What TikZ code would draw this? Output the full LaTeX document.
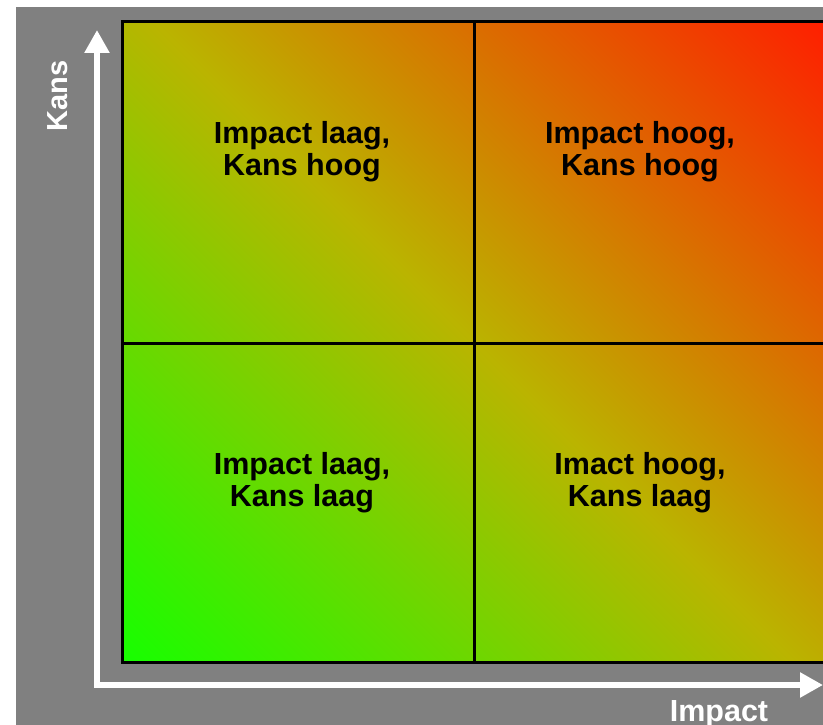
\documentclass[tikz,border=0pt]{standalone}
\usepackage{fontspec}
\setmainfont{Liberation Sans}
\usetikzlibrary{arrows.meta}
\definecolor{bggray}{RGB}{128,128,128}
\definecolor{gA}{RGB}{22,255,0}
\definecolor{gM}{RGB}{186,180,0}
\definecolor{gR}{RGB}{255,30,0}
\tikzset{
  cell/.style={font=\bfseries\fontsize{30.5}{32}\selectfont, align=center, text=black, inner sep=0pt},
  axislabel/.style={font=\bfseries\fontsize{29}{32}\selectfont, text=white, inner sep=0pt},
  gridline/.style={draw=black, line width=3pt},
  axis/.style={draw=white, line width=5.5pt, {Triangle[width=24pt,length=23pt]}-{Triangle[width=24pt,length=23pt]}}
}
\begin{document}
\begin{tikzpicture}[x=1pt,y=-1pt]
\useasboundingbox (0,0) rectangle (823,725);
\clip (0,0) rectangle (823,725);
\fill[white] (0,0) rectangle (823,725);
\fill[bggray] (16,7) rectangle (823,725);
% gradient field
\begin{scope}
  \clip (122,22) rectangle (826,662);
  \begin{scope}[transform canvas={shift={(474,342)},rotate=45}]
    \shade[left color=gA, right color=gR, middle color=gM] (-476,-476) rectangle (476,476);
  \end{scope}
\end{scope}
% grid
\draw[gridline] (122,22) rectangle (826,662);
\draw[gridline] (474,22) -- (474,662);
\draw[gridline] (122,343) -- (826,343);
% axes
\coordinate (orig) at (97,685);
\coordinate (ytip) at (97,30);
\coordinate (xtip) at (823,685);
\draw[axis] (ytip) -- (orig) -- (xtip);
% labels
\node[axislabel, rotate=90] (kans) at (58,96) {Kans};
\node[axislabel, anchor=base, font=\bfseries\fontsize{30.5}{32}\selectfont] (impact) at (719,721) {Impact};
% cells
\node[cell] (tl) at (302,152) {Impact laag,\\Kans hoog};
\node[cell] (tr) at (640,152) {Impact hoog,\\Kans hoog};
\node[cell] (bl) at (302,483) {Impact laag,\\Kans laag};
\node[cell] (br) at (640,483) {Imact hoog,\\Kans laag};
\end{tikzpicture}
\end{document}
